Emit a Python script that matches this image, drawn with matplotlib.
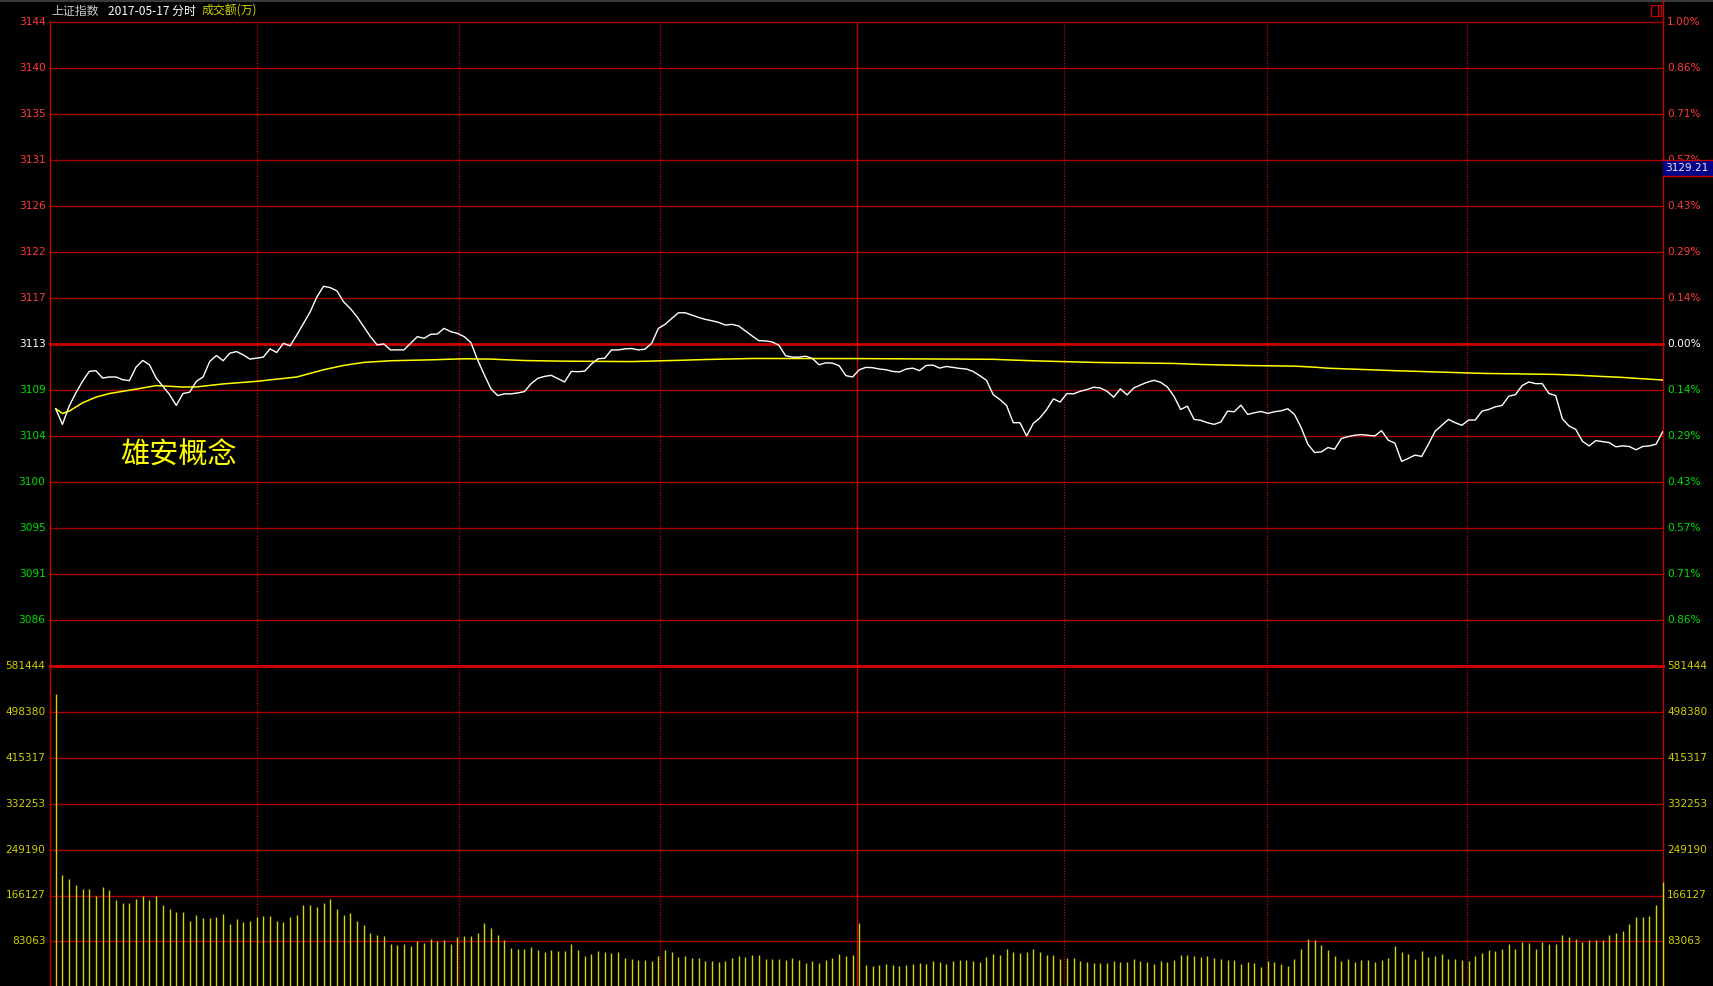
import matplotlib
matplotlib.use("Agg")
import matplotlib.pyplot as plt
import matplotlib.transforms as mtransforms
from matplotlib.lines import Line2D
from matplotlib.patches import Rectangle

# =========================
# data
# =========================
prev_close = 3112.96
cursor_price = 3129.21

price = [
    3106.70, 3105.19, 3106.95, 3108.23, 3109.35, 3110.31, 3110.38, 3109.67, 3109.77, 3109.77,
    3109.51, 3109.42, 3110.73, 3111.37, 3110.95, 3109.67, 3108.87, 3108.07, 3107.02, 3108.17,
    3108.30, 3109.35, 3109.77, 3111.27, 3111.85, 3111.34, 3112.07, 3112.23, 3111.91, 3111.50,
    3111.59, 3111.69, 3112.49, 3112.14, 3113.03, 3112.78, 3113.83, 3114.95, 3116.07, 3117.51,
    3118.54, 3118.41, 3118.09, 3117.03, 3116.39, 3115.59, 3114.63, 3113.67, 3112.87, 3112.97,
    3112.39, 3112.39, 3112.39, 3113.03, 3113.67, 3113.51, 3113.90, 3113.93, 3114.47, 3114.15,
    3113.99, 3113.67, 3113.10, 3111.43, 3109.99, 3108.62, 3107.98, 3108.14, 3108.14, 3108.23,
    3108.36, 3109.13, 3109.64, 3109.83, 3109.93, 3109.61, 3109.29, 3110.31, 3110.28, 3110.34,
    3111.02, 3111.53, 3111.59, 3112.39, 3112.39, 3112.49, 3112.52, 3112.39, 3112.46, 3113.03,
    3114.47, 3114.86, 3115.43, 3115.98, 3115.98, 3115.75, 3115.53, 3115.34, 3115.21, 3115.05,
    3114.79, 3114.86, 3114.70, 3114.22, 3113.74, 3113.29, 3113.26, 3113.16, 3112.84, 3111.82,
    3111.69, 3111.69, 3111.78, 3111.56, 3110.95, 3111.14, 3111.11, 3110.86, 3109.90, 3109.77,
    3110.47, 3110.70, 3110.67, 3110.54, 3110.47, 3110.31, 3110.25, 3110.54, 3110.63, 3110.38,
    3110.89, 3110.92, 3110.63, 3110.79, 3110.70, 3110.60, 3110.54, 3110.31, 3109.90, 3109.45,
    3108.07, 3107.59, 3107.02, 3105.35, 3105.35, 3104.07, 3105.29, 3105.83, 3106.63, 3107.66,
    3107.34, 3108.17, 3108.14, 3108.39, 3108.55, 3108.78, 3108.71, 3108.39, 3107.82, 3108.62,
    3108.04, 3108.71, 3109.00, 3109.26, 3109.45, 3109.26, 3108.81, 3107.91, 3106.63, 3106.95,
    3105.67, 3105.58, 3105.35, 3105.19, 3105.42, 3106.47, 3106.41, 3107.05, 3106.15, 3106.31,
    3106.44, 3106.25, 3106.41, 3106.50, 3106.70, 3106.15, 3104.87, 3103.27, 3102.47, 3102.53,
    3102.95, 3102.79, 3103.82, 3104.01, 3104.14, 3104.20, 3104.14, 3104.07, 3104.58, 3103.66,
    3103.37, 3101.61, 3101.90, 3102.22, 3102.09, 3103.27, 3104.52, 3105.10, 3105.67, 3105.35,
    3105.10, 3105.61, 3105.61, 3106.47, 3106.63, 3106.89, 3107.02, 3107.91, 3108.07, 3108.94,
    3109.29, 3109.13, 3109.13, 3108.17, 3107.98, 3105.74, 3105.03, 3104.71, 3103.56, 3103.11,
    3103.62, 3103.53, 3103.43, 3103.02, 3103.11, 3103.05, 3102.73, 3103.05, 3103.11, 3103.27,
    3104.49,
]

# 均价线 (读取的拐点)
avg_idx = [0, 1, 2, 4, 6, 8, 11, 13, 15, 19, 21, 25, 30, 36, 40, 43, 46, 50, 56, 61,
           65, 70, 76, 86, 93, 97, 104, 120, 140, 144, 148, 155, 167, 171, 178, 185, 188, 190, 195, 200,
           207, 213, 224, 228, 231, 234, 236, 238, 240]
avg_val = [3106.70, 3106.25, 3106.47, 3107.27, 3107.82, 3108.17, 3108.49, 3108.71, 3108.94, 3108.80,
           3108.81, 3109.10, 3109.35, 3109.77, 3110.47, 3110.89, 3111.18, 3111.34, 3111.43, 3111.53,
           3111.50, 3111.36, 3111.30, 3111.26, 3111.38, 3111.46, 3111.56, 3111.55, 3111.48, 3111.38,
           3111.30, 3111.18, 3111.08, 3110.98, 3110.88, 3110.82, 3110.72, 3110.62, 3110.50, 3110.38,
           3110.24, 3110.12, 3110.02, 3109.92, 3109.82, 3109.73, 3109.64, 3109.56, 3109.48]

# 成交额(万)
volume = [
    530150, 202800, 195600, 184800, 177600, 177600, 164900, 181200, 175800, 157700,
    152300, 152300, 159500, 164900, 157700, 164900, 148700, 141400, 136000, 136000,
    119800, 130600, 125200, 125200, 127000, 132400, 114400, 123400, 118000, 119800,
    127000, 128800, 128800, 119800, 118000, 127000, 130600, 148700, 148700, 145100,
    152300, 159500, 141400, 130600, 134200, 119800, 112600, 98100, 94500, 92700,
    78200, 76400, 78200, 74600, 83700, 80100, 87300, 83700, 85500, 78200,
    90900, 92700, 92700, 98100, 116200, 107100, 94500, 85500, 71000, 69200,
    69200, 72800, 67400, 63800, 67400, 65600, 65600, 78200, 67400, 56600,
    60200, 65600, 63800, 62000, 63800, 53000, 51200, 49400, 49400, 47600,
    56600, 67400, 63800, 54800, 56600, 53000, 53000, 47600, 47600, 45700,
    47600, 53000, 56600, 54800, 58400, 58400, 51200, 51200, 51200, 49400,
    53000, 49400, 43900, 47600, 43900, 49400, 53000, 60200, 56600, 58400,
    116200, 40300, 38500, 40300, 42100, 40300, 38500, 40300, 42100, 43900,
    42100, 47600, 45700, 42100, 47600, 49400, 49400, 47600, 45700, 54800,
    60200, 58400, 69200, 63800, 62000, 63800, 69200, 63800, 58400, 58400,
    51200, 53000, 53000, 47600, 45700, 43900, 43900, 43900, 47600, 45700,
    45700, 51200, 47600, 45700, 42100, 47600, 45700, 49400, 58400, 58400,
    56600, 54800, 56600, 53000, 51200, 49400, 49400, 42100, 45700, 43900,
    36700, 47600, 45700, 42100, 38500, 51200, 69200, 87300, 85500, 76400,
    67400, 56600, 47600, 51200, 45700, 49400, 49400, 45700, 49400, 53000,
    74600, 63800, 60200, 51200, 65600, 54800, 56600, 60200, 51200, 51200,
    48800, 47600, 56600, 62000, 67400, 65600, 69200, 78200, 69200, 81900,
    80100, 69200, 81900, 78200, 78200, 94500, 90900, 87300, 81900, 85500,
    85500, 85400, 94400, 98100, 101700, 114300, 126900, 126900, 128800, 148600,
    190700,
]

price_labels = ["3144", "3140", "3135", "3131", "3126", "3122", "3117", "3113",
                "3109", "3104", "3100", "3095", "3091", "3086"]
pct_labels = ["1.00%", "0.86%", "0.71%", "0.57%", "0.43%", "0.29%", "0.14%", "0.00%",
              "0.14%", "0.29%", "0.43%", "0.57%", "0.71%", "0.86%"]
vol_labels = ["581444", "498380", "415317", "332253", "249190", "166127", "83063"]

# 半小时分隔线 (分钟序号)
half_hour_x = [30.1, 60.3, 90.3, 119.6, 150.6, 180.9, 210.8]
midday_x = 119.6

# =========================
# style
# =========================
RED_GRID = "#a80000"
RED_THICK = "#c80000"
RED_TXT = "#ff3a3a"
GREEN_TXT = "#00e000"
YELLOW_TXT = "#d0d000"
VOL_COLOR = "#d4d400"
CJK = ["Noto Sans CJK SC", "DejaVu Sans"]
NUM_FS = 7.6

W, H = 1713, 986
L, R = 49.7, 1663.3
P_TOP, SPLIT, V_BOT = 22, 666, 987.3

fig = plt.figure(figsize=(W / 100, H / 100), dpi=100, facecolor="black")
ax_p = fig.add_axes([L / W, 1 - SPLIT / H, (R - L) / W, (SPLIT - P_TOP) / H])
ax_v = fig.add_axes([L / W, 1 - V_BOT / H, (R - L) / W, (V_BOT - SPLIT) / H])

n = len(price)
idx = list(range(n))
step = prev_close * 0.01 / 7
vol_step = 581444 / 7

for ax in (ax_p, ax_v):
    ax.set_facecolor("none")
    ax.set_xlim(-0.9, n - 0.92)
    ax.set_xticks([])
    ax.set_yticks([])
    for s in ax.spines.values():
        s.set_visible(False)

ax_p.set_ylim(prev_close - 7 * step, prev_close + 7 * step)
ax_v.set_ylim(0, 7 * vol_step)

# =========================
# grid
# =========================
for k in range(-6, 8):
    y = prev_close + k * step
    ax_p.axhline(y, color=RED_THICK if k == 0 else RED_GRID,
                 lw=2.0 if k == 0 else 1.0, clip_on=False, zorder=1)
for k in range(1, 8):
    ax_v.axhline(k * vol_step, color=RED_THICK if k == 7 else RED_GRID,
                 lw=2.2 if k == 7 else 1.0, clip_on=False, zorder=1)

for x in half_hour_x:
    for ax in (ax_p, ax_v):
        if x == midday_x:
            ax.axvline(x, color=RED_THICK, lw=1.0, zorder=1)
        else:
            ax.axvline(x, color=RED_THICK, lw=0.9, ls=(0, (1, 1.2)), zorder=1)

# outer frame (behind the axes so the last bar sits on top)
fig.add_artist(Line2D([0, 1], [1 - 0.8 / H] * 2, transform=fig.transFigure,
                      color="#3a3a3a", lw=1.5, zorder=-1))
fig.add_artist(Line2D([L / W] * 2, [0, 1 - 21 / H], transform=fig.transFigure,
                      color=RED_THICK, lw=1.0, zorder=-1))
fig.add_artist(Line2D([R / W] * 2, [0, 1], transform=fig.transFigure,
                      color=RED_THICK, lw=1.0, zorder=-1))

# =========================
# series
# =========================
ax_p.plot(avg_idx, avg_val, color="#ffff00", lw=1.1, zorder=3)
ax_p.plot(idx, price, color="white", lw=1.0, zorder=4)
ax_v.vlines(idx, 0, volume, color=VOL_COLOR, lw=1.0, zorder=3, clip_on=False)

# =========================
# axis labels
# =========================
tp = mtransforms.blended_transform_factory(fig.transFigure, ax_p.transData)
tv = mtransforms.blended_transform_factory(fig.transFigure, ax_v.transData)

for i, (pl, cl) in enumerate(zip(price_labels, pct_labels)):
    k = 7 - i
    y = prev_close + k * step
    col = RED_TXT if k > 0 else ("white" if k == 0 else GREEN_TXT)
    fig.text(45.5 / W, y, pl, transform=tp, ha="right", va="center",
             color=col, fontsize=NUM_FS)
    fig.text(1667 / W, y, cl, transform=tp, ha="left", va="center",
             color=col, fontsize=NUM_FS, zorder=2)

for i, vl in enumerate(vol_labels):
    y = (7 - i) * vol_step
    fig.text(45.5 / W, y, vl, transform=tv, ha="right", va="center",
             color=YELLOW_TXT, fontsize=NUM_FS)
    fig.text(1667 / W, y, vl, transform=tv, ha="left", va="center",
             color=YELLOW_TXT, fontsize=NUM_FS)

# 当前光标价格框
box_h = step * 16 / 46.4
fig.add_artist(Rectangle((R / W, cursor_price), (W - R) / W, box_h, transform=tp,
                         facecolor="#000088", edgecolor="none", zorder=5))
for yy in (cursor_price, cursor_price + box_h):
    fig.add_artist(Line2D([R / W, 1], [yy, yy], transform=tp, color=RED_THICK,
                          lw=1.0, zorder=6))
fig.text(1665 / W, cursor_price + box_h / 2, f"{cursor_price:.2f}", transform=tp,
         ha="left", va="center", color="#e8e8e8", fontsize=NUM_FS, zorder=7)

# 右上角小图标
fig.add_artist(Rectangle((1651 / W, 1 - 15.5 / H), 10 / W, 10 / H,
                         transform=fig.transFigure, fill=False,
                         edgecolor=RED_THICK, lw=0.9))
fig.add_artist(Line2D([1658 / W] * 2, [1 - 15.5 / H, 1 - 5.5 / H],
                      transform=fig.transFigure, color=RED_THICK, lw=0.9))

# =========================
# header & annotation
# =========================
hy = 1 - 11 / H
fig.text(51 / W, hy, "上证指数", color="#c8c8c8", fontsize=8.6, family=CJK, va="center")
fig.text(108 / W, hy, "2017-05-17 分时", color="white", fontsize=8.6, family=CJK, va="center")
fig.text(202 / W, hy, "成交额(万)", color=YELLOW_TXT, fontsize=8.6, family=CJK, va="center")

fig.text(120 / W, 1 - 456 / H, "雄安概念", color="#ffff00", fontsize=21,
         family=CJK, va="center", ha="left")

fig.savefig("out.png", dpi=100, facecolor="black")
